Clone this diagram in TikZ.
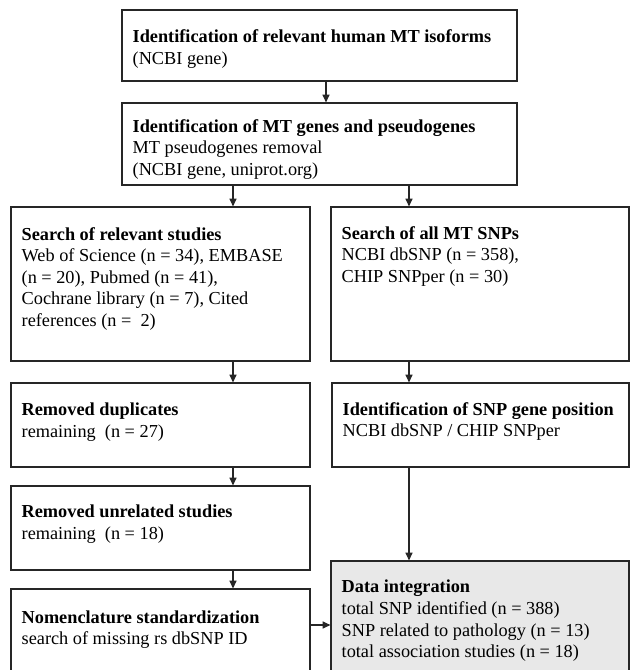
\documentclass[tikz,border=0pt]{standalone}
\usepackage{fontspec}
\setmainfont{Liberation Serif}
\usetikzlibrary{arrows.meta, positioning, calc}

\begin{document}
\begin{tikzpicture}[
  x=0.025cm, y=-0.025cm,
  mtline/.style={draw=black!85, line width=0.8pt},
  mtbox/.style={mtline, fill=white, inner sep=0pt},
  mtgrey/.style={mtbox, fill=black!9},
  mttxt/.style={anchor=north west, inner sep=0pt, align=left,
    font=\fontsize{13pt}{15.3pt}\selectfont},
  mtarr/.style={mtline, -{Triangle[length=5.5pt, width=5pt]}}
]
\useasboundingbox (0,0) rectangle (630,670);

%--------------------------------------------------------------
% Riquadri
%--------------------------------------------------------------
\node[mtbox, minimum width=9.875cm, minimum height=1.775cm] (iso) at (319.5,45.5) {};
\node[mtbox, minimum width=9.875cm, minimum height=2.05cm] (genes) at (319.5,144) {};
\node[mtbox, minimum width=7.475cm, minimum height=3.85cm] (studies) at (160.5,284) {};
\node[mtbox, minimum width=7.45cm, minimum height=3.85cm] (snps) at (480,284) {};
\node[mtbox, minimum width=7.475cm, minimum height=2.1cm] (dup) at (160.5,425) {};
\node[mtbox, minimum width=7.425cm, minimum height=2.1cm] (snppos) at (480.5,425) {};
\node[mtbox, minimum width=7.475cm, minimum height=2.1cm] (unrel) at (160.5,528) {};
\node[mtbox, minimum width=7.475cm, minimum height=2.075cm] (nomen) at (160.5,630.5) {};
\node[mtgrey, minimum width=7.45cm, minimum height=2.775cm] (data) at (480,616.5) {};

%--------------------------------------------------------------
% Testi
%--------------------------------------------------------------
\node[mttxt] (isotxt) at ([shift={(11,20)}]iso.north west)
  {\textbf{Identification of relevant human MT isoforms}\\(NCBI gene)};
\node[mttxt] (genestxt) at ([shift={(11,16.6)}]genes.north west)
  {\textbf{Identification of MT genes and pseudogenes}\\MT pseudogenes removal\\(NCBI gene, uniprot.org)};
\node[mttxt] (studiestxt) at ([shift={(11,20.6)}]studies.north west)
  {\textbf{Search of relevant studies}\\Web of Science (n = 34), EMBASE\\(n = 20), Pubmed (n = 41),\\Cochrane library (n = 7), Cited\\references (n = ~2)};
\node[mttxt] (snpstxt) at ([shift={(11,19.6)}]snps.north west)
  {\textbf{Search of all MT SNPs}\\NCBI dbSNP (n = 358),\\CHIP SNPper (n = 30)};
\node[mttxt] (duptxt) at ([shift={(11,20.6)}]dup.north west)
  {\textbf{Removed duplicates}\\remaining~ (n = 27)};
\node[mttxt] (snppostxt) at ([shift={(11,19.6)}]snppos.north west)
  {\textbf{Identification of SNP gene position}\\NCBI dbSNP / CHIP SNPper};
\node[mttxt] (unreltxt) at ([shift={(11,19.6)}]unrel.north west)
  {\textbf{Removed unrelated studies}\\remaining~ (n = 18)};
\node[mttxt] (nomentxt) at ([shift={(11,21.6)}]nomen.north west)
  {\textbf{Nomenclature standardization}\\search of missing rs dbSNP ID};
\node[mttxt] (datatxt) at ([shift={(11,19.6)}]data.north west)
  {\textbf{Data integration}\\total SNP identified (n = 388)\\SNP related to pathology (n = 13)\\total association studies (n = 18)};

%--------------------------------------------------------------
% Frecce
%--------------------------------------------------------------
\coordinate (mcol) at (326,0);
\coordinate (lcol) at (233,0);
\coordinate (rcol) at (409,0);
\coordinate (hrow) at (0,625);

\draw[mtarr] (iso.south -| mcol) -- (genes.north -| mcol);
\draw[mtarr] (genes.south -| lcol) -- (studies.north -| lcol);
\draw[mtarr] (genes.south -| rcol) -- (snps.north -| rcol);
\draw[mtarr] (studies.south -| lcol) -- (dup.north -| lcol);
\draw[mtarr] (dup.south -| lcol) -- (unrel.north -| lcol);
\draw[mtarr] (unrel.south -| lcol) -- (nomen.north -| lcol);
\draw[mtarr] (snps.south -| rcol) -- (snppos.north -| rcol);
\draw[mtarr] (snppos.south -| rcol) -- (data.north -| rcol);
\draw[mtarr] (nomen.east |- hrow) -- (data.west |- hrow);

\end{tikzpicture}
\end{document}
